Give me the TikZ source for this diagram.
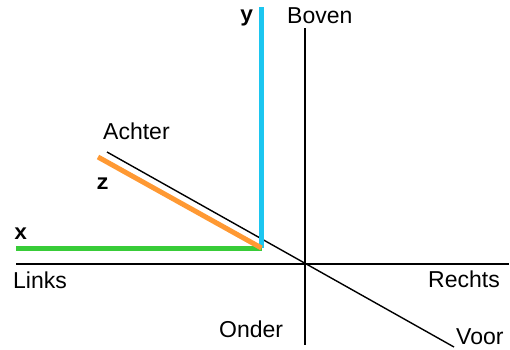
\documentclass[tikz,border=0pt]{standalone}
\usepackage{fontspec}
\setmainfont{Liberation Sans}
\newfontfamily\axfont{Liberation Mono}[BoldFont={Liberation Mono Bold}]
\definecolor{ycol}{RGB}{28,198,240}
\definecolor{xcol}{RGB}{56,204,56}
\definecolor{zcol}{RGB}{255,153,51}
\begin{document}
\begin{tikzpicture}[x=1pt,y=-1pt,
  lbl/.style={inner sep=0pt,anchor=base west,font=\fontsize{23}{25}\selectfont},
  axl/.style={inner sep=0pt,anchor=base west,font=\axfont\bfseries\fontsize{22}{24}\selectfont},
  ref/.style={line width=1.4pt,black},
  col/.style={line width=5pt}]
\useasboundingbox (0,0) rectangle (510,349);
% reference axes
\coordinate (top) at (305,28);
\coordinate (bot) at (305,345);
\coordinate (left) at (16,264);
\coordinate (right) at (509,264);
\coordinate (back) at (107,152);
\coordinate (front) at (454,347);
\draw[ref] (top) -- (bot);
\draw[ref] (left) -- (right);
\draw[ref] (back) -- (front);
% coloured axes
\coordinate (o) at (261.5,248);
\coordinate (ye) at (261.5,7);
\coordinate (xe) at (16,248);
\coordinate (ze) at (98,157);
\draw[col,ycol] (o) -- (ye);
\draw[col,xcol] (o) -- (xe);
\draw[col,zcol] (o) -- (ze);
% labels
\node[lbl] (boven) at (287,23) {Boven};
\node[lbl] (achter) at (103,139) {Achter};
\node[lbl] (links) at (13,288) {Links};
\node[lbl] (rechts) at (428,287) {Rechts};
\node[lbl] (onder) at (219,337) {Onder};
\node[lbl] (voor) at (456,344) {Voor};
\node[axl] (ylab) at (240,21) {y};
\node[axl] (xlab) at (14,239) {x};
\node[axl] (zlab) at (96,189) {z};
\end{tikzpicture}
\end{document}
